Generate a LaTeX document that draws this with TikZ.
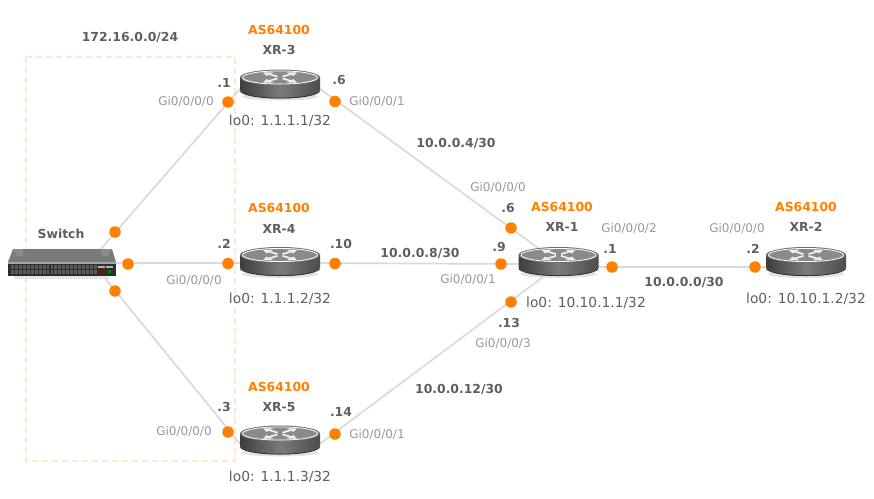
\documentclass[tikz,border=0pt]{standalone}
\usepackage{fontspec}
\setmainfont{DejaVu Sans}
\definecolor{labelgray}{HTML}{5F5F5F}
\definecolor{portgray}{HTML}{999999}
\definecolor{dotorange}{HTML}{FF8000}
\definecolor{linkgray}{HTML}{DADADA}
\definecolor{framepeach}{HTML}{FFE6CC}
\tikzset{
  x=1pt,y=-1pt,
  bold label/.style={font=\fontsize{12.4}{14}\selectfont\bfseries,text=labelgray,inner sep=0pt},
  as label/.style={font=\fontsize{12.4}{14}\selectfont\bfseries,text=dotorange,inner sep=0pt},
  port label/.style={font=\fontsize{12}{14}\selectfont,text=portgray,inner sep=0pt},
  lo label/.style={font=\fontsize{13.8}{15}\selectfont,text=labelgray,inner sep=0pt},
  port dot/.style={circle,fill=dotorange,minimum size=11.5pt,inner sep=0pt},
  link/.style={draw=linkgray,line width=1.7pt},
  routerbox/.style={rectangle,minimum width=80pt,minimum height=26pt,inner sep=0pt},
  switchbox/.style={rectangle,minimum width=108pt,minimum height=27pt,inner sep=0pt},
  routerpic/.pic={
    \fill[black!14,opacity=.8] (0,12) ellipse (38 and 4);
    \path[left color=black!76,right color=black!70,middle color=black!52]
      (-40,-7) -- (-40,6) .. controls (-36,11) and (-20,14) .. (0,14) .. controls (20,14) and (36,11) .. (40,6) -- (40,-7) -- cycle;
    \draw[black!82,line width=.8pt] (-39.6,7) .. controls (-36,11) and (-20,13.6) .. (0,13.6) .. controls (20,13.6) and (36,11) .. (39.6,7);
    \fill[black!58] (0,-7) ellipse (40 and 8);
    \draw[white,line width=.8pt,fill=black!46] (0,-7) ellipse (37.5 and 6.6);
    \foreach \a/\b in {-1/-1,1/-1,-1/1,1/1}{
      \draw[white!94!black,line width=1.7pt] (\a*2.5,\b*0.9-7) -- (\a*11,\b*3.4-7);
      \fill[white!94!black] (\a*6.5,\b*5.2-7) -- (\a*17,\b*5.2-7) -- (\a*13.5,\b*1.6-7) -- cycle;
    }
  },
}
\begin{document}
\begin{tikzpicture}
\useasboundingbox (0,0) rectangle (874,498);
\fill[white] (0,0) rectangle (874,498);
\draw[framepeach,line width=1.6pt,dash pattern=on 6pt off 4pt] (26,57) rectangle (235,461);
% nodes that connectors attach to
\node[switchbox] (sw) at (62,263) {};
\node[routerbox] (xr3) at (280,89) {};
\node[routerbox] (xr4) at (280,263) {};
\node[routerbox] (xr5) at (280,443.5) {};
\node[routerbox] (xr1) at (558.5,264) {};
\node[routerbox] (xr2) at (806,267) {};
\coordinate (swne) at (100,250);
\coordinate (swse) at (104,277);
\coordinate (xa) at (538,248);
\coordinate (xb) at (543,277);
\coordinate (xc) at (598,267);
% links
\draw[link] (swne) -- (xr3.west);
\draw[link] (sw.east) -- (xr4.west);
\draw[link] (swse) -- (xr5.west);
\draw[link] (xr3.east) -- (xa);
\draw[link] (xr4.east) -- (xr1.west);
\draw[link] (xr5.east) -- (xb);
\draw[link] (xc) -- (xr2.west);
% switch
\fill[black!12,opacity=.7] (14,276) rectangle (110,279);
\fill[black!52] (13,249) -- (112,249) -- (116,262) -- (8,262) -- cycle;
\fill[black!45] (13,249) -- (23,249) -- (23,256) -- (17,256) -- cycle;
\fill[black!45] (100,249) -- (112,249) -- (108,256) -- (102,256) -- cycle;
\fill[black!35] (8,261.5) rectangle (116,263.5);
\fill[black!82] (8,263.5) rectangle (116,276);
\foreach \i in {0,...,21}{
  \fill[black!64] (11+\i*3.95,265.2) rectangle +(2.9,3.6);
  \fill[black!64] (11+\i*3.95,270.2) rectangle +(2.9,3.6);
}
\fill[black!30] (98,266) rectangle (104.5,268);
\fill[black!30] (106,266) rectangle (113,268);
\fill[red!55!black] (100,270) rectangle (102.5,272.5);
\fill[green!50!black] (108,270) rectangle (110.5,272.5);
% routers
\foreach \n/\px/\py in {a/280/84.5,b/280/262,c/280/440.5,d/558.5/262,e/806/262}{
  \pic at (\px,\py) {routerpic};
}
% port dots
\foreach \n/\px/\py in {d1/115/232,d2/128/264,d3/115/291,
  d4/228/102,d5/335/101.5,d6/228/263.5,d7/335/263.5,d8/228/432,d9/335/434,
  d10/511/228,d11/501/264,d12/511/302,d13/612/267,d14/755/267}{
  \node[port dot] (\n) at (\px,\py) {};
}
% text
\node[bold label] (t1) at (130,37) {172.16.0.0/24};
\node[bold label] (t2) at (61,234) {Switch};
\node[as label] (a3) at (279,30) {AS64100};
\node[bold label] (n3) at (279,50) {XR-3};
\node[as label] (a4) at (279,208) {AS64100};
\node[bold label] (n4) at (279,229) {XR-4};
\node[as label] (a5) at (279,387) {AS64100};
\node[bold label] (n5) at (279,407) {XR-5};
\node[as label] (a1) at (562,206.5) {AS64100};
\node[bold label] (n1) at (562,227) {XR-1};
\node[as label] (a2) at (806,206.5) {AS64100};
\node[bold label] (n2) at (806,227) {XR-2};
\node[lo label] (l3) at (280,121) {lo0: 1.1.1.1/32};
\node[lo label] (l4) at (280,299) {lo0: 1.1.1.2/32};
\node[lo label] (l5) at (280,477) {lo0: 1.1.1.3/32};
\node[lo label] (l1) at (586,303) {lo0: 10.10.1.1/32};
\node[lo label] (l2) at (806,299) {lo0: 10.10.1.2/32};
\node[bold label] (s1) at (456,143) {10.0.0.4/30};
\node[bold label] (s2) at (420,253) {10.0.0.8/30};
\node[bold label] (s3) at (459,389) {10.0.0.12/30};
\node[bold label] (s4) at (684,282) {10.0.0.0/30};
\foreach \n/\px/\py/\t in {i1/224/83/.1,i2/339/80/.6,i3/224/244/.2,i4/341/244/.10,i5/224/407/.3,i6/341/412/.14,
  i7/508/208/.6,i8/499/247/.9,i9/610/249/.1,i10/509/323/.13,i11/753/249/.2}{
  \node[bold label] (\n) at (\px,\py) {\t};
}
\foreach \n/\px/\py/\t in {g1/186/101.5/Gi0\slash 0\slash 0\slash 0,g2/377/101/Gi0\slash 0\slash 0\slash 1,
  g3/194/280/Gi0\slash 0\slash 0\slash 0,g4/184/431/Gi0\slash 0\slash 0\slash 0,g5/377/434/Gi0\slash 0\slash 0\slash 1,
  g6/498/187/Gi0\slash 0\slash 0\slash 0,g7/468/279/Gi0\slash 0\slash 0\slash 1,g8/629/228/Gi0\slash 0\slash 0\slash 2,
  g9/503/343/Gi0\slash 0\slash 0\slash 3,g10/737/228/Gi0\slash 0\slash 0\slash 0}{
  \node[port label] (\n) at (\px,\py) {\t};
}
\end{tikzpicture}
\end{document}
